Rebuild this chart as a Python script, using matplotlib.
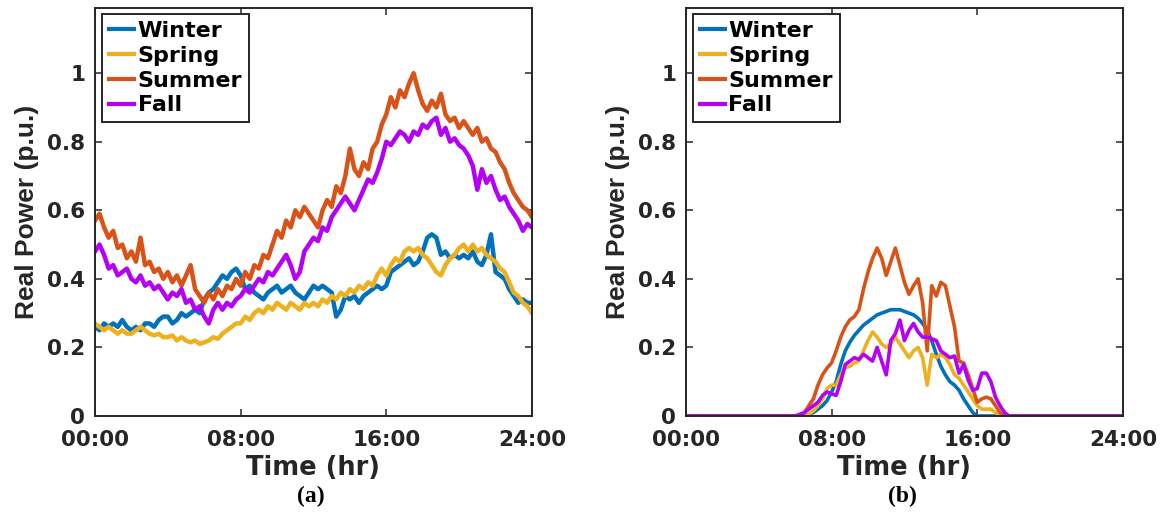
import numpy as np
import matplotlib.pyplot as plt

# 15-minute samples over one day
hours = np.arange(0, 24.01, 0.25)
seasons = ['Winter', 'Spring', 'Summer', 'Fall']
colors = ['#0072BD', '#EDB120', '#D95319', '#B400F5']

# (a) load profiles, one row per hour
load_winter = [0.26, 0.25, 0.27, 0.26, 0.27, 0.26, 0.28, 0.26,
               0.25, 0.26, 0.25, 0.27, 0.27, 0.26, 0.28, 0.29,
               0.29, 0.27, 0.28, 0.30, 0.29, 0.30, 0.31, 0.30,
               0.34, 0.36, 0.37, 0.39, 0.41, 0.40, 0.42, 0.43,
               0.41, 0.37, 0.38, 0.36, 0.35, 0.34, 0.36, 0.37,
               0.38, 0.36, 0.37, 0.38, 0.36, 0.35, 0.34, 0.36,
               0.38, 0.37, 0.38, 0.37, 0.36, 0.29, 0.31, 0.35,
               0.34, 0.35, 0.33, 0.35, 0.36, 0.37, 0.38, 0.37,
               0.38, 0.42, 0.43, 0.44, 0.45, 0.46, 0.44, 0.45,
               0.48, 0.52, 0.53, 0.52, 0.47, 0.48, 0.46, 0.47,
               0.46, 0.47, 0.46, 0.48, 0.45, 0.44, 0.47, 0.53,
               0.42, 0.41, 0.40, 0.37, 0.35, 0.33, 0.34, 0.33,
               0.33]
load_spring = [0.27, 0.26, 0.25, 0.26, 0.25, 0.24, 0.25, 0.24,
               0.24, 0.25, 0.26, 0.25, 0.24, 0.235, 0.24, 0.23,
               0.23, 0.235, 0.22, 0.23, 0.22, 0.215, 0.22, 0.21,
               0.215, 0.22, 0.23, 0.225, 0.24, 0.25, 0.26, 0.27,
               0.27, 0.29, 0.28, 0.30, 0.31, 0.30, 0.32, 0.31,
               0.33, 0.32, 0.31, 0.33, 0.32, 0.31, 0.33, 0.32,
               0.33, 0.32, 0.34, 0.33, 0.35, 0.34, 0.36, 0.35,
               0.37, 0.36, 0.38, 0.37, 0.39, 0.38, 0.41, 0.43,
               0.41, 0.44, 0.46, 0.45, 0.48, 0.49, 0.48, 0.49,
               0.47, 0.46, 0.44, 0.42, 0.41, 0.44, 0.46, 0.47,
               0.49, 0.50, 0.48, 0.50, 0.48, 0.49, 0.47, 0.46,
               0.45, 0.43, 0.42, 0.39, 0.36, 0.35, 0.33, 0.32,
               0.30]
load_summer = [0.57, 0.59, 0.55, 0.52, 0.54, 0.49, 0.50, 0.46,
               0.48, 0.45, 0.52, 0.44, 0.45, 0.42, 0.43, 0.40,
               0.42, 0.39, 0.41, 0.38, 0.41, 0.44, 0.37, 0.35,
               0.33, 0.36, 0.34, 0.37, 0.35, 0.38, 0.37, 0.40,
               0.38, 0.42, 0.40, 0.44, 0.43, 0.47, 0.46, 0.50,
               0.54, 0.52, 0.57, 0.55, 0.60, 0.58, 0.61, 0.59,
               0.57, 0.55, 0.60, 0.63, 0.61, 0.67, 0.65, 0.70,
               0.78, 0.72, 0.70, 0.74, 0.72, 0.78, 0.80, 0.85,
               0.88, 0.93, 0.90, 0.95, 0.93, 0.97, 1.00, 0.95,
               0.91, 0.89, 0.92, 0.90, 0.94, 0.88, 0.86, 0.87,
               0.84, 0.86, 0.84, 0.82, 0.84, 0.80, 0.81, 0.78,
               0.77, 0.74, 0.72, 0.68, 0.65, 0.63, 0.61, 0.60,
               0.58]
load_fall = [0.48, 0.50, 0.47, 0.43, 0.44, 0.41, 0.42, 0.43,
             0.40, 0.39, 0.41, 0.38, 0.39, 0.37, 0.38, 0.36,
             0.34, 0.36, 0.35, 0.37, 0.33, 0.34, 0.31, 0.32,
             0.29, 0.27, 0.31, 0.33, 0.31, 0.33, 0.32, 0.34,
             0.35, 0.37, 0.36, 0.38, 0.40, 0.39, 0.42, 0.41,
             0.43, 0.45, 0.47, 0.44, 0.40, 0.42, 0.48, 0.50,
             0.52, 0.51, 0.55, 0.54, 0.58, 0.60, 0.62, 0.64,
             0.62, 0.60, 0.63, 0.66, 0.69, 0.68, 0.71, 0.75,
             0.80, 0.79, 0.81, 0.83, 0.82, 0.80, 0.83, 0.82,
             0.85, 0.84, 0.86, 0.87, 0.82, 0.84, 0.80, 0.81,
             0.79, 0.78, 0.76, 0.73, 0.66, 0.72, 0.68, 0.70,
             0.66, 0.63, 0.64, 0.61, 0.59, 0.57, 0.54, 0.56,
             0.55]

# (b) PV generation profiles, zero at night
night_am = [0.0] * 24
night_pm = [0.0] * 25
pv_winter = night_am + [0.0, 0.0, 0.0, 0.005,
                        0.01, 0.02, 0.03, 0.045,
                        0.07, 0.10, 0.15, 0.19,
                        0.215, 0.235, 0.25, 0.265,
                        0.275, 0.285, 0.295, 0.30,
                        0.305, 0.31, 0.31, 0.31,
                        0.305, 0.30, 0.295, 0.285,
                        0.27, 0.25, 0.22, 0.18,
                        0.145, 0.12, 0.10, 0.09,
                        0.075, 0.05, 0.03, 0.01,
                        0.0, 0.0, 0.0, 0.0,
                        0.0, 0.0, 0.0, 0.0] + night_pm
pv_spring = night_am + [0.0, 0.0, 0.0, 0.005,
                        0.015, 0.03, 0.05, 0.08,
                        0.09, 0.09, 0.12, 0.14,
                        0.145, 0.155, 0.16, 0.19,
                        0.22, 0.245, 0.23, 0.21,
                        0.20, 0.21, 0.23, 0.21,
                        0.19, 0.17, 0.19, 0.20,
                        0.17, 0.09, 0.18, 0.17,
                        0.18, 0.17, 0.15, 0.12,
                        0.11, 0.09, 0.07, 0.05,
                        0.03, 0.02, 0.02, 0.02,
                        0.01, 0.005, 0.0, 0.0] + night_pm
pv_summer = night_am + [0.0, 0.0, 0.01, 0.03,
                        0.05, 0.09, 0.12, 0.14,
                        0.155, 0.19, 0.23, 0.26,
                        0.28, 0.29, 0.31, 0.37,
                        0.42, 0.46, 0.49, 0.46,
                        0.41, 0.45, 0.49, 0.44,
                        0.39, 0.355, 0.38, 0.40,
                        0.33, 0.19, 0.38, 0.35,
                        0.39, 0.38, 0.32, 0.26,
                        0.16, 0.155, 0.12, 0.08,
                        0.04, 0.05, 0.055, 0.05,
                        0.03, 0.01, 0.0, 0.0] + night_pm
pv_fall = night_am + [0.0, 0.005, 0.01, 0.02,
                      0.03, 0.04, 0.06, 0.07,
                      0.065, 0.06, 0.10, 0.15,
                      0.16, 0.17, 0.165, 0.18,
                      0.17, 0.16, 0.20, 0.16,
                      0.12, 0.22, 0.24, 0.28,
                      0.22, 0.25, 0.27, 0.245,
                      0.23, 0.23, 0.225, 0.22,
                      0.19, 0.18, 0.17, 0.175,
                      0.125, 0.15, 0.105, 0.075,
                      0.08, 0.125, 0.125, 0.10,
                      0.055, 0.03, 0.01, 0.0] + night_pm

xticks = [0, 8, 16, 24]
xticklabels = ['00:00', '08:00', '16:00', '24:00']
yticks = [0, 0.2, 0.4, 0.6, 0.8, 1]
yticklabels = ['0', '0.2', '0.4', '0.6', '0.8', '1']

ink = '#262626'
wide = 'DejaVu Sans'
sans = ['Liberation Sans', 'DejaVu Sans']

fig = plt.figure(figsize=(11.64, 5.16), dpi=100)
ax_a = fig.add_axes([0.0816, 0.1938, 0.3754, 0.7907])
ax_b = fig.add_axes([0.5893, 0.1938, 0.3754, 0.7907])

panels = [(ax_a, [load_winter, load_spring, load_summer, load_fall], 3.2, '(a)'),
          (ax_b, [pv_winter, pv_spring, pv_summer, pv_fall], 2.6, '(b)')]

for ax, series, lw, tag in panels:
    for name, vals, c in zip(seasons, series, colors):
        ax.plot(hours, vals, color=c, lw=lw, label=name)
    ax.set_xlim(0, 24)
    ax.set_ylim(0, 1.19)
    ax.set_xticks(xticks)
    ax.set_xticklabels(xticklabels, family=wide, weight='bold', fontsize=15.5, color=ink)
    ax.set_yticks(yticks)
    ax.set_yticklabels(yticklabels, family=wide, weight='bold', fontsize=15.5, color=ink)
    ax.tick_params(direction='in', length=5, width=1.1, top=True, right=True,
                   color=ink)
    ax.tick_params(axis='x', pad=10)
    ax.tick_params(axis='y', pad=7)
    for sp in ax.spines.values():
        sp.set_linewidth(1.4)
        sp.set_color(ink)
    ax.set_xlabel('Time (hr)', family=wide, weight='bold', fontsize=18.5,
                  color=ink, labelpad=4)
    ax.set_ylabel('Real Power (p.u.)', family=sans, weight='bold', fontsize=19,
                  color=ink, labelpad=6)
    leg = ax.legend(loc='upper left', bbox_to_anchor=(0.016, 0.985), borderaxespad=0,
                    prop={'family': wide, 'weight': 'bold', 'size': 16},
                    handlelength=1.15, handletextpad=0.15, labelspacing=0.22,
                    borderpad=0.3, fancybox=False, framealpha=1)
    leg.get_frame().set_edgecolor(ink)
    leg.get_frame().set_linewidth(1.4)
    for line in leg.get_lines():
        line.set_linewidth(3)
    bbox = ax.get_position()
    fig.text(bbox.x0 + bbox.width * 0.495, 0.037, tag, ha='center', va='center',
             family=['Liberation Serif', 'DejaVu Serif'], weight='bold', fontsize=17)

fig.savefig('out.png', dpi=100)
